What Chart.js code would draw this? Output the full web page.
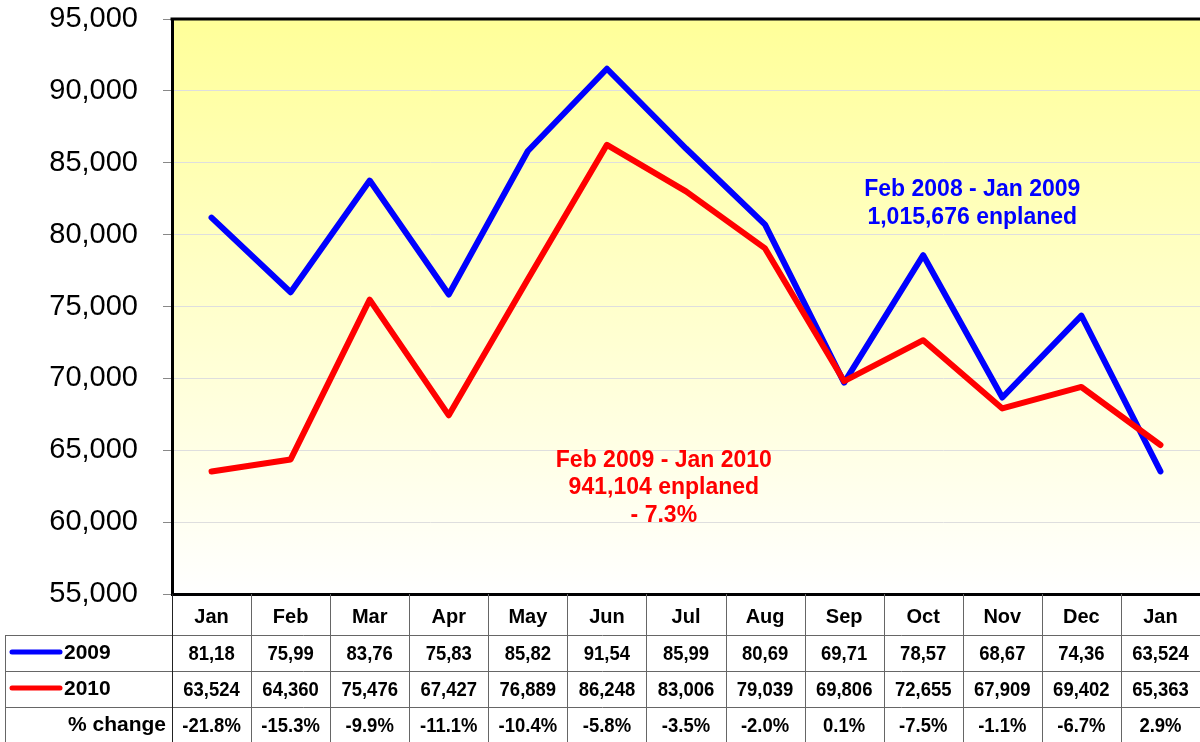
<!DOCTYPE html>
<html>
<head>
<meta charset="utf-8">
<script src="https://cdn.jsdelivr.net/npm/chart.js@4"></script>
<style>
  html, body { margin: 0; padding: 0; background: #fff; }
  #wrap { width: 1200px; height: 742px; }
</style>
</head>
<body>
<div id="wrap"><canvas id="enplaned"></canvas></div>
<script>
const months = ['Jan', 'Feb', 'Mar', 'Apr', 'May', 'Jun', 'Jul', 'Aug', 'Sep', 'Oct', 'Nov', 'Dec', 'Jan'];
const y2009 = [81180, 75990, 83760, 75830, 85820, 91540, 85990, 80690, 69710, 78570, 68670, 74360, 63524];
const y2010 = [63524, 64360, 75476, 67427, 76889, 86248, 83006, 79039, 69806, 72655, 67909, 69402, 65363];
const table2009 = ['81,18', '75,99', '83,76', '75,83', '85,82', '91,54', '85,99', '80,69', '69,71', '78,57', '68,67', '74,36', '63,524'];
const table2010 = ['63,524', '64,360', '75,476', '67,427', '76,889', '86,248', '83,006', '79,039', '69,806', '72,655', '67,909', '69,402', '65,363'];
const pctChange = ['-21.8%', '-15.3%', '-9.9%', '-11.1%', '-10.4%', '-5.8%', '-3.5%', '-2.0%', '0.1%', '-7.5%', '-1.1%', '-6.7%', '2.9%'];

const FONT = "'Liberation Sans', Arial, sans-serif";
const BLUE = '#0000ff';
const RED = '#ff0000';

// yellow fade behind the plot + top frame line
const plotBg = {
    id: 'plotBg',
    beforeDraw(chart) {
        const {ctx, chartArea: a} = chart;
        const g = ctx.createLinearGradient(0, a.top, 0, a.bottom);
        g.addColorStop(0, '#ffff99');
        g.addColorStop(1, '#ffffff');
        ctx.save();
        ctx.fillStyle = g;
        ctx.fillRect(a.left, a.top, a.right - a.left, a.bottom - a.top);
        ctx.restore();
    },
    afterDraw(chart) {
        const {ctx, chartArea: a} = chart;
        ctx.save();
        ctx.strokeStyle = '#000';
        ctx.lineWidth = 3;
        ctx.beginPath();
        ctx.moveTo(a.left - 1.5, a.top);
        ctx.lineTo(a.right, a.top);
        ctx.stroke();
        ctx.restore();
    }
};

// text notes inside the plot
const notes = {
    id: 'notes',
    afterDatasetsDraw(chart) {
        const {ctx, scales: {x, y}} = chart;
        ctx.save();
        ctx.font = 'bold 23px ' + FONT;
        ctx.textAlign = 'center';
        ctx.textBaseline = 'middle';
        ctx.fillStyle = BLUE;
        ctx.fillText('Feb 2008 - Jan 2009', x.getPixelForValue(9.62), y.getPixelForValue(83150));
        ctx.fillText('1,015,676 enplaned', x.getPixelForValue(9.62), y.getPixelForValue(81200));
        ctx.fillStyle = RED;
        ctx.fillText('Feb 2009 - Jan 2010', x.getPixelForValue(5.72), y.getPixelForValue(64300));
        ctx.fillText('941,104 enplaned', x.getPixelForValue(5.72), y.getPixelForValue(62400));
        ctx.fillText('- 7.3%', x.getPixelForValue(5.72), y.getPixelForValue(60450));
        ctx.restore();
    }
};

// data table under the x axis
const dataTable = {
    id: 'dataTable',
    afterDraw(chart) {
        const {ctx, scales: {x}, chartArea: a} = chart;
        const top = x.bottom;
        const rowH = 36;
        const n = months.length;
        const colW = (a.right - a.left) / n;
        ctx.save();

        // grid
        ctx.strokeStyle = '#666';
        ctx.lineWidth = 1;
        ctx.beginPath();
        for (let r = 0; r < 3; r++) {
            const yy = Math.round(top + r * rowH) + 0.5;
            ctx.moveTo(5, yy);
            ctx.lineTo(a.right, yy);
        }
        ctx.moveTo(5.5, top);
        ctx.lineTo(5.5, chart.height);
        for (let c = 1; c < n; c++) {
            const xx = Math.round(a.left + c * colW) + 0.5;
            ctx.moveTo(xx, a.bottom);
            ctx.lineTo(xx, chart.height);
        }
        ctx.stroke();
        ctx.strokeStyle = '#222';
        ctx.beginPath();
        ctx.moveTo(Math.round(a.left) + 0.5, a.bottom);
        ctx.lineTo(Math.round(a.left) + 0.5, chart.height);
        ctx.stroke();

        // row legend keys
        ctx.lineCap = 'round';
        ctx.lineWidth = 5;
        [[BLUE, 0], [RED, 1]].forEach(([col, r]) => {
            const yy = top + r * rowH + rowH / 2 - 1;
            ctx.strokeStyle = col;
            ctx.beginPath();
            ctx.moveTo(12, yy);
            ctx.lineTo(60, yy);
            ctx.stroke();
        });

        ctx.fillStyle = '#000';
        ctx.font = 'bold 21px ' + FONT;
        ctx.textBaseline = 'middle';
        ctx.textAlign = 'left';
        ctx.fillText('2009', 64, top + rowH / 2);
        ctx.fillText('2010', 64, top + rowH * 1.5);
        ctx.textAlign = 'right';
        ctx.fillText('% change', 166, top + rowH * 2.5);

        // cell values, slightly condensed like the original
        ctx.textAlign = 'center';
        [table2009, table2010, pctChange].forEach((row, r) => {
            row.forEach((t, i) => {
                const w = ctx.measureText(t).width;
                ctx.fillText(t, x.getPixelForValue(i), top + r * rowH + rowH / 2 + 1, w * 0.88);
            });
        });
        ctx.restore();
    }
};

const ctx = document.getElementById('enplaned').getContext('2d');

new Chart(ctx, {
    type: 'line',
    data: {
        labels: months,
        datasets: [{
            label: '2009',
            data: y2009,
            order: 1,
            borderColor: BLUE,
            borderWidth: 6,
            pointRadius: 0,
            tension: 0,
            borderJoinStyle: 'round',
            borderCapStyle: 'round'
        }, {
            label: '2010',
            data: y2010,
            order: 0,
            borderColor: RED,
            borderWidth: 6,
            pointRadius: 0,
            tension: 0,
            borderJoinStyle: 'round',
            borderCapStyle: 'round'
        }]
    },
    options: {
        responsive: true,
        maintainAspectRatio: false,
        animation: false,
        layout: {
            padding: {top: 19, right: 0, bottom: 107, left: 0}
        },
        scales: {
            x: {
                offset: true,
                afterFit(scale) { scale.height = 41; },
                grid: {display: true, drawOnChartArea: false, drawTicks: false},
                border: {display: true, color: '#000', width: 3},
                ticks: {
                    color: '#000',
                    padding: 11,
                    maxRotation: 0,
                    font: {family: FONT, size: 20, weight: 'bold'}
                }
            },
            y: {
                min: 55000,
                max: 95000,
                afterFit(scale) {
                    scale.width = 172;
                    scale.paddingTop = 0;
                    scale.paddingBottom = 0;
                },
                grid: {color: '#dedede', tickColor: '#888', tickLength: 9},
                border: {display: true, color: '#000', width: 3},
                ticks: {
                    stepSize: 5000,
                    color: '#000',
                    padding: 25,
                    font: {family: FONT, size: 29},
                    callback: v => v.toLocaleString('en-US')
                }
            }
        },
        plugins: {
            legend: {display: false},
            tooltip: {enabled: false}
        }
    },
    plugins: [plotBg, notes, dataTable]
});
</script>
</body>
</html>
